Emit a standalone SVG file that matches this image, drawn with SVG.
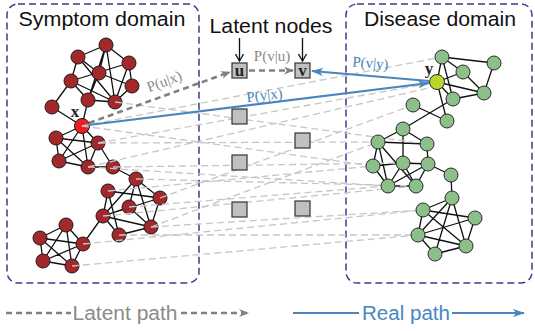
<svg xmlns="http://www.w3.org/2000/svg" width="535" height="331" viewBox="0 0 535 331">
  <style>
    .box { fill: none; stroke: #3b3b8e; stroke-width: 1.5; stroke-dasharray: 7 4; }
    .title { font-family: "Liberation Sans", Arial, sans-serif; font-size: 20.5px; fill: #111; }
    .edge { stroke: #111; stroke-width: 1.3; fill: none; }
    .sym { fill: #a3282b; stroke: #1a1a1a; stroke-width: 1; }
    .dis { fill: #8cbf8a; stroke: #2a2a2a; stroke-width: 1; }
    .faint { stroke: #c6c6c6; stroke-width: 1.3; stroke-dasharray: 7 4; fill: none; }
    .latent { stroke: #808080; stroke-width: 2.6; stroke-dasharray: 6 4; fill: none; }
    .real { stroke: #4a86bd; stroke-width: 2.2; fill: none; }
    .sq { fill: #c0c0c0; stroke: #333; stroke-width: 1.2; }
    .lbl { font-family: "Liberation Serif", "Times New Roman", serif; font-weight: bold; font-size: 17px; fill: #222; text-anchor: middle; }
    .prob { font-family: "Liberation Serif", "Times New Roman", serif; font-size: 15px; text-anchor: middle; }
  </style>
  <defs>
    <marker id="arrGray" viewBox="0 0 10 8" refX="9" refY="4" markerWidth="10" markerHeight="8" markerUnits="userSpaceOnUse" orient="auto">
      <path d="M0,0 L10,4 L0,8 L3,4 z" fill="#808080"/>
    </marker>
    <marker id="arrBlue" viewBox="0 0 12 8" refX="11" refY="4" markerWidth="12" markerHeight="8" markerUnits="userSpaceOnUse" orient="auto">
      <path d="M0,0 L12,4 L0,8 L3,4 z" fill="#4a86bd"/>
    </marker>
    <marker id="arrBlack" viewBox="0 0 10 10" refX="5" refY="9" markerWidth="10" markerHeight="10" markerUnits="userSpaceOnUse" orient="0">
      <path d="M1,2 L5,9 L9,2" fill="none" stroke="#111" stroke-width="1.3"/>
    </marker>
  </defs>

  <rect width="535" height="331" fill="#fff"/>

  <!-- domain frames -->
  <g id="symptom-domain">
    <rect class="box" x="7" y="4" width="192" height="279" rx="11"/>
    <text class="title" x="102" y="26" text-anchor="middle" textLength="167" lengthAdjust="spacingAndGlyphs">Symptom domain</text>
  </g>
  <g id="disease-domain">
    <rect class="box" x="346" y="4" width="186" height="279" rx="11"/>
    <text class="title" x="440" y="26" text-anchor="middle" textLength="152" lengthAdjust="spacingAndGlyphs">Disease domain</text>
  </g>

  <!-- links inside each domain -->
  <g id="domain-edges" class="edge">
    <!-- symptom cluster 1 -->
    <path d="M106,45L78,57M106,45L129,63M106,45L99,73M106,45L88,100M106,45L115,102M78,57L99,73M78,57L71,81M78,57L115,102M129,63L132,86M129,63L71,81M129,63L115,102M99,73L132,86M99,73L88,100M71,81L88,100M71,81L52,107M71,81L115,102M132,86L115,102M88,100L115,102M88,100L82,126M52,107L82,126"/>
    <!-- symptom cluster 2 -->
    <path d="M82,126L56,138M82,126L98,143M82,126L59,161M82,126L88,167M56,138L98,143M56,138L59,161M56,138L88,167M98,143L59,161M98,143L88,167M98,143L113,167M59,161L88,167M88,167L113,167M113,167L136,179"/>
    <!-- symptom cluster 3 -->
    <path d="M136,179L129,207M136,179L103,216M136,179L151,227M136,179L160,198M108,191L160,198M108,191L103,216M108,191L119,235M129,207L151,227M129,207L103,216M103,216L151,227M103,216L119,235M119,235L151,227M160,198L151,227M160,198L103,216M103,216L83,244"/>
    <!-- symptom cluster 4 -->
    <path d="M66,225L40,238M66,225L83,244M66,225L43,261M66,225L72,266M40,238L83,244M40,238L43,261M40,238L72,266M83,244L43,261M83,244L72,266M43,261L72,266"/>
    <!-- disease cluster 1 -->
    <path d="M442,57L494,63M442,57L463,72M442,57L437,82M442,57L453,99M437,82L463,72M437,82L453,99M437,82L484,93M437,82L447,121M494,63L484,93M453,99L484,93M463,72L484,93M453,99L403,129M413,105L447,121"/>
    <!-- disease cluster 2 -->
    <path d="M403,129L378,142M403,129L427,144M403,129L403,163M378,142L427,144M378,142L373,166M378,142L388,186M378,142L416,186M373,166L388,186M373,166L403,163M403,163L388,186M403,163L416,186M403,163L428,164M428,164L388,186M428,164L416,186M427,144L428,164M428,164L451,175M388,186L416,186M451,175L452,198"/>
    <!-- disease cluster 3 -->
    <path d="M452,198L423,210M452,198L418,235M452,198L466,246M452,198L435,254M423,210L475,218M423,210L418,235M423,210L466,246M475,218L418,235M475,218L466,246M418,235L466,246M418,235L435,254M466,246L435,254"/>
  </g>

  <!-- symptom nodes -->
  <g id="symptom-nodes">
    <circle class="sym" cx="106" cy="45" r="7"/>
    <circle class="sym" cx="78" cy="57" r="7"/>
    <circle class="sym" cx="129" cy="63" r="7"/>
    <circle class="sym" cx="99" cy="73" r="7"/>
    <circle class="sym" cx="71" cy="81" r="7"/>
    <circle class="sym" cx="132" cy="86" r="7"/>
    <circle class="sym" cx="88" cy="100" r="7"/>
    <circle class="sym" cx="115" cy="102" r="7"/>
    <circle class="sym" cx="52" cy="107" r="7"/>
    <circle class="sym" cx="56" cy="138" r="7"/>
    <circle class="sym" cx="98" cy="143" r="7"/>
    <circle class="sym" cx="59" cy="161" r="7"/>
    <circle class="sym" cx="88" cy="167" r="7"/>
    <circle class="sym" cx="113" cy="167" r="7"/>
    <circle class="sym" cx="136" cy="179" r="7"/>
    <circle class="sym" cx="108" cy="191" r="7"/>
    <circle class="sym" cx="160" cy="198" r="7"/>
    <circle class="sym" cx="129" cy="207" r="7"/>
    <circle class="sym" cx="103" cy="216" r="7"/>
    <circle class="sym" cx="66" cy="225" r="7"/>
    <circle class="sym" cx="151" cy="227" r="7"/>
    <circle class="sym" cx="119" cy="235" r="7"/>
    <circle class="sym" cx="40" cy="238" r="7"/>
    <circle class="sym" cx="83" cy="244" r="7"/>
    <circle class="sym" cx="43" cy="261" r="7"/>
    <circle class="sym" cx="72" cy="266" r="7"/>
  </g>
  <g id="node-x">
    <circle cx="82" cy="126" r="7.5" fill="#ee1c24" stroke="#1a1a1a" stroke-width="1"/>
    <text class="lbl" x="75" y="117">x</text>
  </g>

  <!-- cross-domain links -->
  <g id="cross-links" class="faint">
    <path d="M82,126L442,57"/>
    <path d="M98,143L437,82"/>
    <path d="M88,167L437,86"/>
    <path d="M115,102L427,144"/>
    <path d="M82,126L373,166"/>
    <path d="M98,143L378,142"/>
    <path d="M113,167L403,163"/>
    <path d="M88,167L388,186"/>
    <path d="M108,191L373,166"/>
    <path d="M136,179L416,186"/>
    <path d="M160,198L413,105"/>
    <path d="M151,227L378,142"/>
    <path d="M103,216L416,186"/>
    <path d="M151,227L423,210"/>
    <path d="M119,235L418,235"/>
    <path d="M83,244L423,210"/>
    <path d="M72,266L418,235"/>
    <path d="M129,207L388,186"/>
  </g>

  <!-- disease nodes -->
  <g id="disease-nodes">
    <circle class="dis" cx="442" cy="57" r="7"/>
    <circle class="dis" cx="494" cy="63" r="7"/>
    <circle class="dis" cx="463" cy="72" r="7"/>
    <circle class="dis" cx="484" cy="93" r="7"/>
    <circle class="dis" cx="453" cy="99" r="7"/>
    <circle class="dis" cx="413" cy="105" r="7"/>
    <circle class="dis" cx="447" cy="121" r="7"/>
    <circle class="dis" cx="403" cy="129" r="7"/>
    <circle class="dis" cx="378" cy="142" r="7"/>
    <circle class="dis" cx="427" cy="144" r="7"/>
    <circle class="dis" cx="373" cy="166" r="7"/>
    <circle class="dis" cx="403" cy="163" r="7"/>
    <circle class="dis" cx="428" cy="164" r="7"/>
    <circle class="dis" cx="451" cy="175" r="7"/>
    <circle class="dis" cx="388" cy="186" r="7"/>
    <circle class="dis" cx="416" cy="186" r="7"/>
    <circle class="dis" cx="452" cy="198" r="7"/>
    <circle class="dis" cx="423" cy="210" r="7"/>
    <circle class="dis" cx="475" cy="218" r="7"/>
    <circle class="dis" cx="418" cy="235" r="7"/>
    <circle class="dis" cx="466" cy="246" r="7"/>
    <circle class="dis" cx="435" cy="254" r="7"/>
  </g>
  <g id="node-y">
    <circle cx="437" cy="82" r="7.5" fill="#bcd42c" stroke="#2a2a2a" stroke-width="1"/>
    <text class="lbl" x="429" y="74">y</text>
  </g>

  <!-- latent nodes -->
  <g id="latent-nodes">
    <text class="title" x="271" y="33" text-anchor="middle" textLength="123" lengthAdjust="spacingAndGlyphs">Latent nodes</text>
    <rect class="sq" x="232" y="109" width="15" height="15"/>
    <rect class="sq" x="295" y="133" width="15" height="15"/>
    <rect class="sq" x="232" y="155" width="15" height="15"/>
    <rect class="sq" x="232" y="202" width="15" height="15"/>
    <rect class="sq" x="295" y="201" width="15" height="15"/>
  </g>
  <g id="node-u">
    <rect class="sq" x="232" y="63" width="15" height="15"/>
    <text class="lbl" x="239.5" y="76">u</text>
  </g>
  <g id="node-v">
    <rect class="sq" x="295" y="63" width="15" height="15"/>
    <text class="lbl" x="302.5" y="76">v</text>
  </g>

  <!-- paths and their probabilities -->
  <g id="paths">
    <line x1="239.5" y1="38" x2="239.5" y2="61" stroke="#111" stroke-width="1.3" marker-end="url(#arrBlack)"/>
    <line x1="302.5" y1="38" x2="302.5" y2="61" stroke="#111" stroke-width="1.3" marker-end="url(#arrBlack)"/>
    <path class="latent" d="M89,123L230,72" marker-end="url(#arrGray)"/>
    <path class="latent" d="M249,70.5L293,70.5" marker-end="url(#arrGray)"/>
    <path class="real" d="M89,125L429,83" marker-end="url(#arrBlue)"/>
    <path class="real" d="M429,81L312,71" marker-end="url(#arrBlue)"/>
    <text class="prob" fill="#8a8a8a" x="166" y="86" transform="rotate(-20 166 86)">P(u|x)</text>
    <text class="prob" fill="#8a8a8a" x="272" y="61">P(v|u)</text>
    <text class="prob" fill="#4a86bd" x="265" y="100" transform="rotate(-7 265 100)">P(y|x)</text>
    <text class="prob" fill="#4a86bd" x="370" y="68" transform="rotate(5 370 68)">P(v|y)</text>
  </g>

  <!-- legend -->
  <g id="legend">
    <path class="latent" d="M6,313L71,313" stroke-width="2"/>
    <text x="125" y="320" text-anchor="middle" font-family="Liberation Sans, Arial, sans-serif" font-size="20" fill="#8a8a8a" textLength="105" lengthAdjust="spacingAndGlyphs">Latent path</text>
    <path class="latent" d="M181,313L248,313" stroke-width="2" marker-end="url(#arrGray)"/>
    <path class="real" d="M293,313L359,313"/>
    <text x="406" y="320" text-anchor="middle" font-family="Liberation Sans, Arial, sans-serif" font-size="20" fill="#4a86bd" textLength="88" lengthAdjust="spacingAndGlyphs">Real path</text>
    <path class="real" d="M452,313L524,313" marker-end="url(#arrBlue)"/>
  </g>
</svg>
